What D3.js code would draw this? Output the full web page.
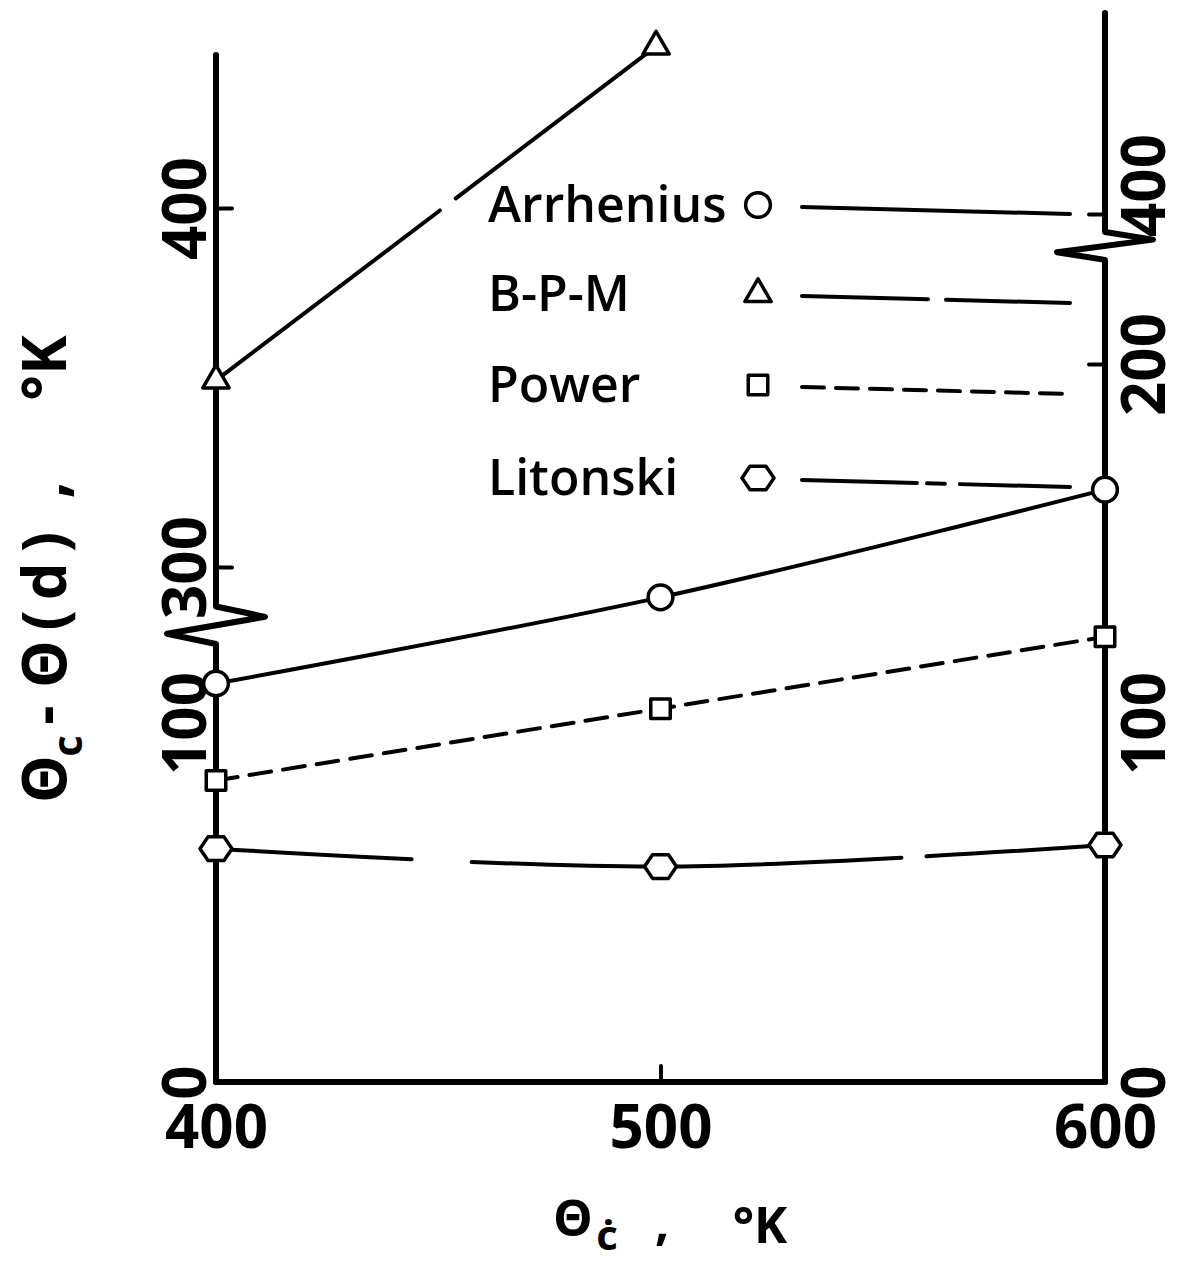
<!DOCTYPE html>
<meta charset='utf-8'>
<title>Theta_c - Theta(d)</title>
<style>
body {
  margin: 0;
  background-color: #fff;
}
text {
  font-family: "Open Sans", "DejaVu Sans", sans-serif;
  fill: #000;
}
</style>
<svg width="1185" height="1261" stroke-linejoin="round" stroke-linecap="round"></svg>
<script src="https://d3js.org/d3.v7.min.js"></script>
<script>

// x categories (theta_c, K)
var thetaC = [400, 500, 600];

// series values
// lower part of the axes (0 .. ~230)
var arrhenius = [111, 135, 165];
var power = [84, 104, 124];
var litonski = [65, 60, 66];
// B-P-M sits on the upper part of the left axis (300 .. 440)
var bpmX = [400, 499];
var bpm = [352, 445];

// tick values and labels
var xTicks = [400, 500, 600];
var leftLowTicks = [0, 100];
var leftHighTicks = [300, 400];
var rightLowTicks = [0, 100, 200];
var rightHighTicks = [400];

var legendNames = ["Arrhenius", "B-P-M", "Power", "Litonski"];

var svg = d3.select("svg");

var x = d3.scaleLinear().domain([400, 600]).range([216, 1105]);
// lower scale, shared by both axes
var y = d3.scaleLinear().domain([0, 100]).range([1082, 723]);
// upper scale of the left axis (after the break)
var yHighL = d3.scaleLinear().domain([300, 400]).range([567, 208]);
// upper scale of the right axis (after the break)
var yHighR = d3.scaleLinear().domain([400, 500]).range([214, -145]);

var axisW = 6;

// ---- axis lines with breaks ----
function brokenAxis(x0, yTop, yBreakTop, yBreakBot, yBot, zig) {
  var m = (yBreakTop + yBreakBot) / 2;
  return [[x0, yTop], [x0, yBreakTop], [x0 + zig, yBreakTop + (m - yBreakTop) * 0.55],
          [x0 - zig, m + (yBreakBot - m) * 0.45], [x0, yBreakBot], [x0, yBot]];
}

var line = d3.line();

svg.append("path")
    .attr("fill", "none")
    .attr("stroke", "#000")
    .attr("stroke-width", axisW)
    .attr("d", line(brokenAxis(x(400), yHighL(442.6), yHighL(289), y(122), y(0), 49)));

svg.append("path")
    .attr("fill", "none")
    .attr("stroke", "#000")
    .attr("stroke-width", axisW)
    .attr("d", line(brokenAxis(x(600), yHighR(456), yHighR(395), y(229), y(0), 48)));

svg.append("path")
    .attr("fill", "none")
    .attr("stroke", "#000")
    .attr("stroke-width", axisW)
    .attr("d", line([[x(400), y(0)], [x(600), y(0)]]));

// ---- ticks & labels ----
var numSize = 60;

function styleAxis(g, tickFilter) {
  g.select(".domain").remove();
  g.selectAll(".tick line")
      .attr("stroke", "#000")
      .attr("stroke-width", 4)
      .attr("display", function(d) { return tickFilter(d) ? null : "none"; });
  g.selectAll(".tick text")
      .attr("font-size", numSize)
      .attr("font-weight", 700)
      .attr("font-family", null);
  g.attr("font-family", null).attr("font-size", null);
}

function leftAxis(scale, vals) {
  var g = svg.append("g")
      .attr("transform", "translate(" + x(400) + ",0)")
      .call(d3.axisLeft(scale).tickValues(vals).tickSize(-16).tickFormat(d3.format("d")));
  styleAxis(g, function(d) { return d !== 0 && d !== 100; });
  g.selectAll(".tick text")
      .attr("x", null).attr("dy", null)
      .attr("text-anchor", "middle")
      .attr("transform", "translate(-10,0) rotate(-90)");
}
leftAxis(y, leftLowTicks);
leftAxis(yHighL, leftHighTicks);

function rightAxis(scale, vals, shift) {
  var g = svg.append("g")
      .attr("transform", "translate(" + x(600) + ",0)")
      .call(d3.axisRight(scale).tickValues(vals).tickSize(-16).tickFormat(d3.format("d")));
  styleAxis(g, function(d) { return d === 200 || d === 400; });
  g.selectAll(".tick text")
      .attr("x", null).attr("dy", null)
      .attr("text-anchor", "middle")
      .attr("transform", "translate(60," + shift + ") rotate(-90)");
}
rightAxis(y, rightLowTicks, 0);
rightAxis(yHighR, rightHighTicks, -29);

var gx = svg.append("g")
    .attr("transform", "translate(0," + y(0) + ")")
    .call(d3.axisBottom(x).tickValues(xTicks).tickSize(-16).tickFormat(d3.format("d")));
styleAxis(gx, function(d) { return d === 500; });
gx.selectAll(".tick text")
    .attr("y", 66).attr("dy", null);

// ---- axis titles ----
function label(tx, ty, rot, size, str) {
  return svg.append("text")
      .attr("transform", "translate(" + tx + "," + ty + ")" + (rot ? " rotate(" + rot + ")" : ""))
      .attr("text-anchor", "middle")
      .attr("font-size", size)
      .attr("font-weight", 700)
      .text(str);
}

label(573, 1236, 0, 50, "Θ");
label(607, 1250, 0, 42, "ċ");
label(662, 1240, 0, 50, ",");
label(760, 1243, 0, 50, "°K");

label(66, 779, -90, 60, "Θ");
label(82, 746, -90, 42, "c");
label(66, 715, -90, 60, "-");
label(66, 610, -90, 60, "Θ(d)").attr("textLength", 156).attr("lengthAdjust", "spacing");
label(66, 490, -90, 60, ",");
label(66, 368, -90, 60, "°K");

// ---- series ----
var stroke = "#000";
var seriesW = 4;

function pts(xs, ys, sy) {
  return xs.map(function(v, i) { return [x(v), sy(ys[i])]; });
}

var curve = d3.line().curve(d3.curveCatmullRom.alpha(0.5));

svg.append("path")
    .attr("fill", "none").attr("stroke", stroke).attr("stroke-width", seriesW)
    .attr("d", curve(pts(thetaC, arrhenius, y)));

svg.append("path")
    .attr("fill", "none").attr("stroke", stroke).attr("stroke-width", seriesW)
    .attr("stroke-dasharray", "22 12")
    .attr("d", curve(pts(thetaC, power, y)));

svg.append("path")
    .attr("fill", "none").attr("stroke", stroke).attr("stroke-width", seriesW)
    .attr("stroke-dasharray", "196 60 430 25 300")
    .attr("d", curve(pts(thetaC, litonski, y)));

svg.append("path")
    .attr("fill", "none").attr("stroke", stroke).attr("stroke-width", seriesW)
    .attr("stroke-dasharray", "281 20 400")
    .attr("d", line(pts(bpmX, bpm, yHighL)));

// ---- markers ----
var sym = {
  circle: d3.symbol().type(d3.symbolCircle).size(480),
  triangle: d3.symbol().type(d3.symbolTriangle).size(300),
  square: d3.symbol().type(d3.symbolSquare).size(380)
};

function hexagon(r) {
  var p = [];
  for (var i = 0; i < 6; i++) {
    var a = Math.PI / 3 * i;
    p.push([r * Math.cos(a), r * 0.85 * Math.sin(a)]);
  }
  return "M" + p.join("L") + "Z";
}

function markers(xs, ys, sy, d) {
  svg.append("g").selectAll("path")
      .data(xs)
    .enter().append("path")
      .attr("transform", function(v, i) { return "translate(" + x(v) + "," + sy(ys[i]) + ")"; })
      .attr("d", d)
      .attr("fill", "#fff")
      .attr("stroke", "#000")
      .attr("stroke-width", 3.5);
}

markers(thetaC, arrhenius, y, sym.circle());
markers(thetaC, power, y, sym.square());
markers(thetaC, litonski, y, hexagon(16));
markers(bpmX, bpm, yHighL, sym.triangle());

// ---- legend ----
var legendY = [205, 294, 385, 478];
var legendD = [sym.circle(), sym.triangle(), sym.square(), hexagon(16)];
var legendDash = [null, "126 18", "22 12", "115 10 18 15"];

var leg = svg.append("g").selectAll("g")
    .data(legendNames)
  .enter().append("g")
    .attr("transform", function(d, i) { return "translate(0," + legendY[i] + ")"; });

leg.append("text")
    .attr("x", 488)
    .attr("y", 17)
    .attr("font-size", 50)
    .attr("font-weight", 600)
    .text(function(d) { return d; });

leg.append("path")
    .attr("transform", "translate(758,0)")
    .attr("d", function(d, i) { return legendD[i]; })
    .attr("fill", "#fff")
    .attr("stroke", "#000")
    .attr("stroke-width", 3.5);

leg.append("path")
    .attr("fill", "none")
    .attr("stroke", "#000")
    .attr("stroke-width", seriesW)
    .attr("stroke-dasharray", function(d, i) { return legendDash[i]; })
    .attr("d", line([[802, 2], [1070, 9]]));

</script>
